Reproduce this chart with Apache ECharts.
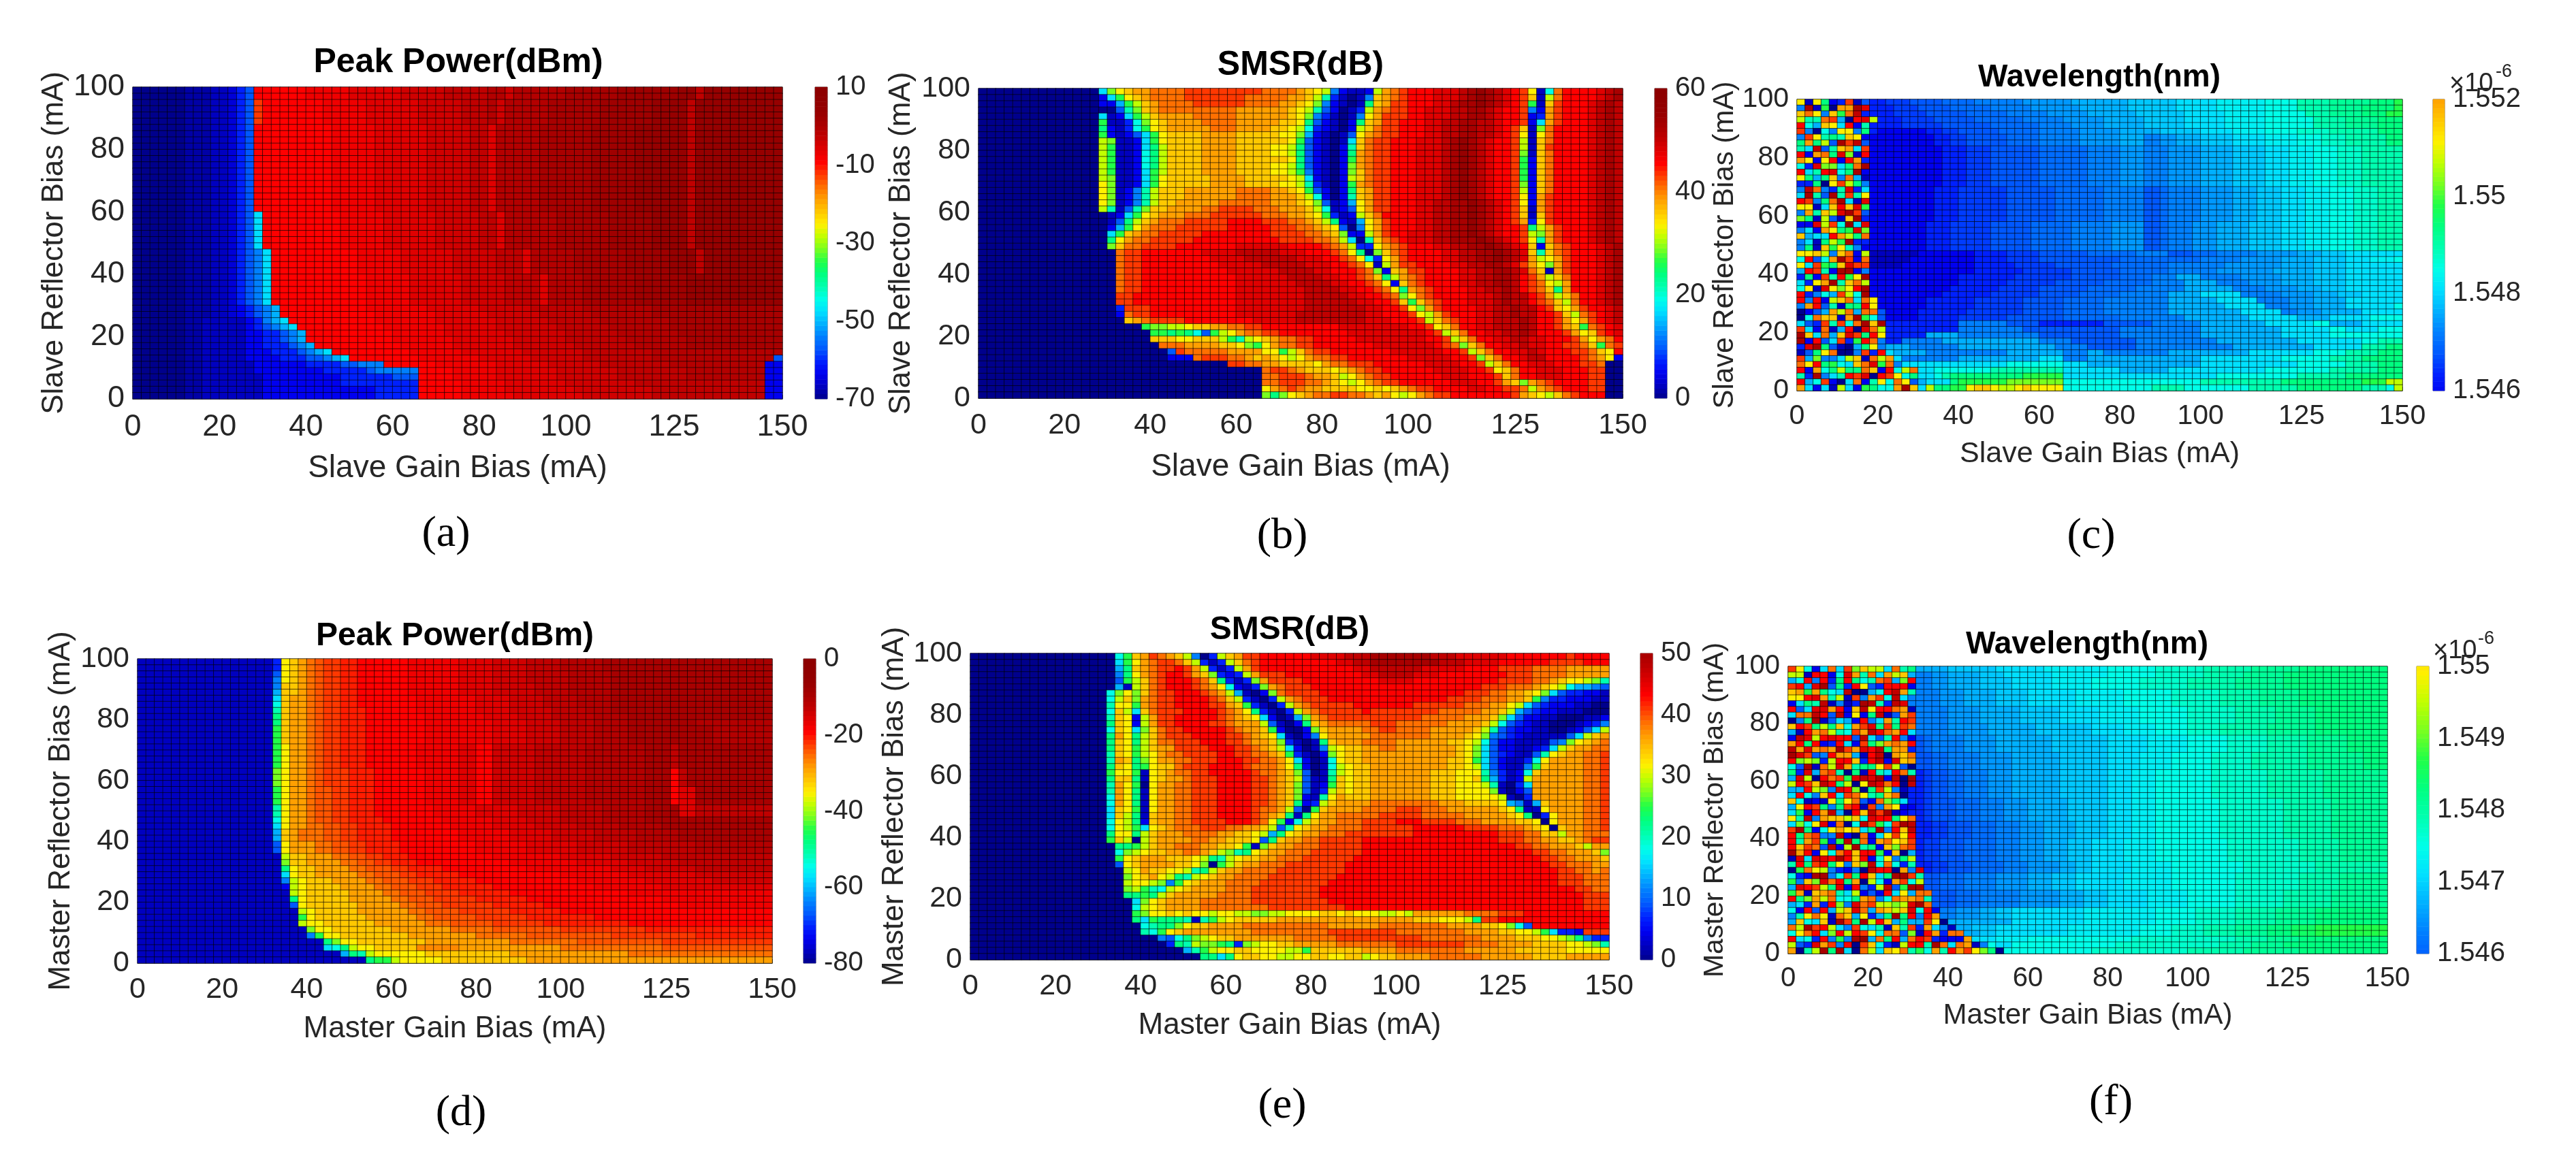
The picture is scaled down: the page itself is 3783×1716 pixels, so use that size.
<!DOCTYPE html>
<html>
<head>
<meta charset="utf-8">
<title>Laser bias maps</title>
<script src="https://cdn.jsdelivr.net/npm/echarts@6/dist/echarts.min.js"></script>
<style>
  html, body { margin: 0; padding: 0; background: #fff; }
  #chart { width: 3783px; height: 1716px; }
</style>
</head>
<body>
<div id="chart"></div>
<script>
// tick labels, same on all six maps
const gainTicks = [0, 20, 40, 60, 80, 100, 125, 150];
const reflectorTicks = [0, 20, 40, 60, 80, 100];
const colCount = 75;
const rowCount = 50;

// colour levels A..Z
const jetLevels = ['#00008c', '#0000c0', '#0000f0', '#0020ff', '#0058ff', '#0080ff', '#00b0ff', '#00e0ff', '#00ffe8',
  '#00ffb0', '#00ff80', '#20ff48', '#78ff20', '#c0ff00', '#fff000', '#ffc800', '#ffa000', '#ff7000', '#ff3800',
  '#ff0000', '#e00000', '#c00000', '#a80000', '#960000', '#900000', '#8c0000'];

// map rows, top row first. A letter is a colour level (lower case = half a level up), a number after it is the
// column where the run starts, a letter with no number takes the next column. *n repeats the row n times.
const peakPowerSlave = [
  'A0a6B9b11D12E13T14t20U25u31V36v41u43v44W50w56X63V65X66*2',
  'A0a6B9b11D12E13S14T15t22U27u33V38v41u42v43W48w54X60V64X65*4',
  'A0a6B9b11D12E13T14t23U28u34V39U41v42W47w53X58V64X65*14',
  'A0a6B9b11D12E13H14T15t24U29u35V40U42v43W49w55X60V64X65*6',
  'A0a6B9b11D12E13F14H15T16t26U31u37V42U45v46W51w57X62V65X66*4',
  'A0a6B9b11D12E13F14H15T16t27U32u38V43U47v48W52w58X64*5',
  'A0a6B9b11C12D13E14F15G16T17t27U34u40V46v52W60',
  'A0a6B9b11C12D13E14F15G16T17t28U35u41V47v53W60',
  'A0a6B8C13D14F15G16H17T18t28U35u42V48v54W62',
  'A0a6B8C13D14E15F16G17H18T19t29U36u42V49v55W62',
  'A0a6B8C13D15E17F18G19T20t30U36u43V50v56W63',
  'A0a6B8C13D15E17F18G19T20t30U37u44V50v57W64',
  'A0a6B8C13D15E18F19G20T21t31U37u44V51v58W64',
  'A0a6B8C13D16E19F20G21H22T23t32U38u45V52v60',
  'A0a6B8C13D17E20F22G23H24T25t33U40u46V52v60E74',
  'A0a6B8C14D20E24F26T29t35U42u48V54v62C73',
  'A0a6B8C14D22E27F28T33t37U42u49V56v64C73',
  'A0a6B8C15D24E30T33t37U42u49V56v64C73',
  'A0a6B8C15D24T33t38U43u50V58C73',
  'A0a6B8C15D28T33t38U43u51V60C73',
  'A0a6B8C15D28T33t38U44u52V60C73'
];

const smsrSlave = [
  'A0H14MOPQR20S24R33Q37PONFCBBCNQRST50U53V56W57X58W59V60U61T62S63OBIRT68U72V73W74',
  'A0C14HLOPQR20S24R31Q36P38NJDBABFPQRST50U53V56W57X58W59V60U61T62S63PBNRT68U72V73W74',
  'A0C14G16LNPQR21S25R31Q35P37O38MFCBABKPQST50U53V55W56X58W59V60U61T62S63LBPST68U71V72W73V74',
  'A0E16JMPQR21Q30P36O37NJECABDNQRST50U52V55W57V59U60T61S63FCQST68U71V72W73V74',
  'A0H14BCHLNPQR25Q30P36O37MFDBABFOQST50U52V55W57V59U60T61S63CDQST68U71V72W73V74',
  'A0L14BBDIMOPQ22R26Q30P35O37KECBACKPQS47T49U52V54W56V58U60T61S63CHQST68U71V72W73V74',
  'A0K14CBDILOPQ22R27Q30P34O36NIDCBACNPRS47T49U52V54W56V58U60T61S62PBMRT67U71V72W73V74',
  'A0L14CBCEHLOP22Q26P30O35M37GCBABEOQRS47T49U52V54W56V58U60T61S62OBORT67U71V72W73V74',
  'A0N14MBBCHLOP22Q26P30O36LECBABHPRS46T48U51V54W55X56W57V58U59T60S62NBPRT67U71V72W73V74',
  'A0N14LBBCHKNP22Q26P30O34N36KECBACJPRS46T48U51V54W55X56W57V58U59T60S62NBPST67U71V72W73V74',
  'A0N14LBBCIKNP22Q26P30O34N36KECBACKQRS46T48U51V54W55X56W57V58U59T60S62MBPRT67U71V72W73V74',
  'A0N14LBBCIKNP22Q26P30O36KECBACLQRS46T48U51V54W55X56W57V58U59T60S62LCPRT67U71V72W73V74',
  'A0N14LBBCIKNP22Q26P30O34N36KECBACMQRS46T48U51V54W55X56W57V58U59T60S62LCPRT67U71V72W73V74',
  'A0N14LBBCHLNP22Q26P30O34N36LFCBACMPRS46T48U51V54W55X56W57V58U59T60S62LCPRT67U71V72W73V74',
  'A0N14MBBCHLOP22Q27P31O36NHCBACNPRS46T48U51V54W55X56W57V58U59T60S62LCPRT67U71V72W73V74',
  'A0O14MBBCHLOP22Q27P31O35N37JDBACLQRS46T48U51V54W55X56W57V58U59T60S62MCPRT67U71V72W73V74',
  'A0O14MBCFJNP21Q24R30Q34P36O37LECACKPQS46T48U51V54W55X56W57V58U59T60S62NCPRT67U71V72W73V74',
  'A0O14MBCFJNP21Q24R30Q34P37NICACJPQS46T48U51V54W55X56W57V58U59T60S62OCQST67U71V72W73V74',
  'A0O14MBCFJNP21Q23R28Q34P37OMEBCGOQS46T48U51V53W55X57W58V59U60T61S62OCQST67U71V72W73V74',
  'A0N14JBEJMPQ22R26S28R32Q35P38NIBCEOQS46T48U51V53W55X57W58V59U60T61S62PBQST67U71V72W73V74',
  'A0B15CHLOPQ21R24S27R33Q36P38OLDBCNPRT47U51V53W55X57W58V59U60T61S62PBPST67U71V72W73V74',
  'A0B15EKNPQR21S24T29S33R36Q38PNKCBGOQS47T48U51V53W55X57W58V59U60T61S62QDOST67U71V72W73V74',
  'A0C15GLOQR20S23T29S34R37Q39POEAFOQS47T48U51V53W55X57W58V59U60T61S63KNQST68U71V72W73V74',
  'A0H15LPQRS21T26S34R38Q40PMCCNQS47T48U50V53W55X57W58V59U60T61S63NMQST68U71V72W73V74',
  'A0K15OQRS20T25S35R39Q41NHAJPRS48T49U50V53W55X58W59V60U61T62S63OJQST68U71V72W73V74',
  'A0M15PRS19T23U30T36S40R41Q42NDDOQRS49T50U53V55W57X59W60V61U62T63PCPRST69U72V73W74',
  'A0R16ST19U26V30U35T38S41R42O43KAMPRS49T50U54V56W58X60W61V62U63PJPRST69U72V73W74',
  'A0R16ST19U27V31U37T40S42R43OIDOQST50U54V56W58X60W61V62U63QNOQST69U72V73W74',
  'A0R16ST19U28V33U38T41S43R44OBNQS49T51U55V57W59V61U62S63QOMQST69U72V73W74',
  'A0R16ST19U29V35U39T41S44R45MCPQS50T52U56V58W60V62U63RPBQST69U72V73W74',
  'A0R16ST19U30V36U40T42S44R45PKNQRS51T52U56V58W60V62T63S64QNPRT69U72V73W74',
  'A0R16ST19U30V37U41T43S45ROCPRST52U56V58W60V62T63S64RONQT69U72V73W74',
  'A0R16ST19U30V38U42T44S46R47OKQRST53U57V59W61V62T63S64RPKQT69U72V73W74',
  'A0S16T18U30V38U43T45S47R48MORST53U57V60W61V62T64S65QNPRT70U72V73W74',
  'A0S16T18U30V38U44T46S48P49LPRST54U57V60W61V62T64S65RPNRT70U72V73W74',
  'A0D16S17T20U30V38U45T47S49OMQST54U58V60W62V63T65S66POQST71U73V74',
  'A0C16R17ST20U30V37U45T47S50ONQST55U58V60W62V63T65S67PNRST72U73V74',
  'A0P17QRS20T24U32V37U45T48S51NPRST56U58V60W63V64T65S67QOQST72U73V74',
  'A0L19MMNNOP25Q27R29S31T33U42T50S52OPRT56U58V60W63V64T65S67QPLRST73U74',
  'A0L20LKLKIELNOQRS33T35U43T52S53NPRT57U59V61W63V64T65S68QOPS72T73U74',
  'A0P20O23P25N28LJNOPQRS37T39U44T52S54N55PRT58U60V62U64T66S69QOQRT74',
  'A0R21Q24P28O30MLOQRS37T39U46T53S54R55M56PRT59U61V63U64T66S68R70PLRS74',
  'A0E22SR24Q29O33L35NPRS39T41U48T54S56NPRT60U62V64U65T66S69R71PORT74',
  'A0C22R25S26R29Q31PQPONOQRS41T43U50T55S57MPRT61U63V64T66S70R71Q72OC',
  'A0S29R31Q33P35O39Q40R41S43T46U52T56S58NPRT62U64T67S70R72A73',
  'A0R33S34R36Q37P38O41PQRS45T47U53T57S59OPRT63U65T68S71A73',
  'A0R33S35R38Q39P41NOQRS46T48U54T57S60PRT63U65T68S71A73',
  'A0R33S35R38Q40P41O42NOQRS47T49U55T58S60QPMQRST67S71A73',
  'A0O33QRSRQ38P40O44P46O47PQRST53U57T59S61R63NQRST68S71A73',
  'A0M33KMOPQR39S41R43Q45PQONOQRS53T55S62Q63PONPRS69T70A73'
];

const wavelengthSlave = [
  'OBOKCDSBED9d11E14e18F22f28G34g41H47h52I58J62j66K71L74',
  'FWBLAQQWUD9d12E15e19F24f29G35g41H47h52I58J62j66K70L74',
  'PROFPLRVDD9d12E16e21F26f31G36g42H48h53I58J63j66K70L73',
  'NJJRSGATUND10d13E17e22F28f33G38g43H48h53I58J64j68K72',
  'TIGPOHTCJD9d13E18e24F30f34G38g43H48h53I58J64j68K72',
  'SFAIFOOFKD9C10D16d18E20e25F30f35G40g45H50h54I58i62J66K72',
  'FSOJKJPOCC9D17d19E21e26F30f35G40F43f45G47g50H54h58I62i65J68K73',
  'KQKNEWSVEC9D17d19E21e26F30f35G40F43f45G47g50H54h58I62i65J68K73',
  'JHVEJPQHSC9D18d21E24e30F36f40F43f46G50g54H58h61I64i67J70',
  'TCQRKUMBTC9D18d21E24e30F36f40F43f46G50g54H58h61I64i67J70',
  'QOCOTCTQDC9D18d21E24e30F36f40F43f46G50g54H58h61I64i67J70',
  'IDUMMHKRWC9D18d21E24e30F36f40F43f46G50g54H58h61I64i67J70',
  'THJTUIKWCC9D18d21E24e30F36f40F43f46G50g54H58h61I64i67J70',
  'OKGKPFRGBC9D18d21E24e30F36f40F43f46G50g54H58h61I64i67J70',
  'DDKAOSNKFC9D18d21E24e30F36f40F43f46G50g54H58h61I64i67J70',
  'FVRFDJUDHC9D17d20E26e32F38E43e45F46f50G54g57H60h63I66i69J72',
  'HWJEWJSJOC9D17d20E26e32F38E43e45F46f50G54g57H60h63I66i69J72',
  'TSFKRWHBUC9D17d20E26e32F38E43e45F46f50G54g57H60h63I66i69J72',
  'OOBHPTPULC9D17d20E26e32F38E43e45F46f50G54g57H60h63I66i69J72',
  'FQJPNUWSEC9D17d20E26e32F38E43e45F46f50G54g57H60h63I66i69J72',
  'MKBNEBPWDC9D17d20E26e32F38E43e45F46f50G54g57H60h63I66i69J72',
  'CCUNSIXHUC9D16d19E24e29F34f39E43e45F46f49G52g56H60h63I66i69J72',
  'FHCQOKLUMC9D16d19E24e29F34f39E43e45F46f49G52g56H60h63I66i69J72',
  'PGHHTQNKRC9D16d19E24e29F34f39E43e45F46f49G52g56H60h63I66i69J72',
  'FHBKNLWDDC9D16d19E24e29F34f39E43e45F46f49G52g56H60h63I66i69J72',
  'FKBPLOJFCC9D16d19E24e29F34f39E43e45F46f49G52g56H60h63I66i69J72',
  'OOPNFPRCNB9C15D22d26E30e36F42E46e49F52f57G62g65H68',
  'ITEIQWSCRB9C14D22d26E30e40F50f55G60g64H68h71I74',
  'OHSLKPUSSB9C13D22d27E32e39F46f53G60g64H68',
  'GTSJCWWCFC9D22d28E34e40F46f52G59g64H68',
  'DKCSJTLOWC9D20d27E34e40F44G47F50f55G60g64H68',
  'HDOQWJPRNC9D20d26E32e38F44G48F52f56G60g64H68',
  'IOBUOMOTWC9D19d25E30e36F42G48F54f58G62g65H68',
  'TDFIGSNIWC9D18d24E30e35F40G46H50F55f60G64g67H70',
  'TFTCNPRHROC10D16d22E28e33F38G46H52F57f61G64H68',
  'FQTEJBKKTOC10D16d22E28e33F38G46H53F58f61G64H68I74',
  'ACEGQNRGRRE10C11D15d21E28e33F38G46H55F60f62G65H70',
  'AIRPPBQWLIE10C11D15d20E26e33F40G48H56G62H66I71',
  'HEDSJSIRWPWD11F20E26D30E38F44G50H58I64G66H70',
  'SHCRBGTAURND11F20E28F40G50H60I66H68I72',
  'WPHRGPUSKTOD11G16F20E30F40G50H60I66',
  'WCTEHSDLTRFDF13G18F30E34F42G52H62I70J72',
  'DUWKEBAGKOFGF14G20F32E36F42G54H64J70K73',
  'BEKORAAFSDTHG12F16G26F33G36F38G46H56I64J68K72',
  'SGMFFHNPBRNQHF13G20H30F33G36H50I60J66K70',
  'ROTKLIHPRULRFH13I26H33G36H50I62J68K72',
  'TCQIKNKKRPCTINRH15I17J24H33G40H46I58J66K72',
  'JDWFHJTSUATSOIKH15I17J18K19L28H33I52J62K68',
  'TGISCAHRCJOIROEG15H16K19L20M26I33J50K60L70N73',
  'QHCHBNHCLKIIQWPHNK17L19O21P22O24N25O27P28O29I33J44I48J56K62J70I73N74'
];

const peakPowerMaster = [
  'B0D16OPQRr21S22s24T26t32U38u42V46v50W55*2',
  'B0E16OPQRr21S22s24T26t32U38u42V46v51W56',
  'B0F16OPQRr21S22s24T26t32U38u42V46v51W56',
  'B0F16PPQRr21S22s24T26t32U38u42V47v51W56',
  'B0G16PPQRr21S22s24T26t32U38u42V47v51W56',
  'B0H16PQQRr21S22s24T26t33U40u44V48v52W56',
  'B0I16PQQRr21S22s24T26t33U40u44V48v52W56',
  'B0J16PQQRr21S22s24T27t33U40u44V49v53W56',
  'B0K16PQQRr21S22s24T27t34U41u45V49v54W58',
  'B0K16PQQRr21S22s24T27t34U42u46V50v54W58v66',
  'B0L16PQQRr21S22s24T27t34U42u46V50v54W58v68*3',
  'B0L16OQQRr21S22s24T27t33U38T40u42V47v53W60V63W64*4',
  'B0M16OQQRr21S22s25T28t34U38T40u42V47v53W60T63V64W65*3',
  'B0L16OQQRr21S23s25T28t34U38T40u42V47v53W60T63U64W66*3',
  'B0J16OQQRr21S23s25T28t35U40u45V50v55W60U64V66*2',
  'B0I16OQQRr21S23s25T29t36U42u46V50v55W60',
  'B0H16OQQRr22S24s26T30t37U42u47V52v57W62',
  'B0G16PQRr22S24s26T30t38U44u49V54v59W64*2',
  'B0E16OQ18R21r23S25s27T31t40U46u52V58v66*2',
  'B0N17PQ20R23r25S27s29T32t42U50u56V62',
  'B0M17PQ20R24r26S28s30T33t44U52u58V64',
  'B0K17OP19Q21R25r27S30s32T36t46U56u60V66',
  'B0H17OP19Q21R26r28S31s33T38t50U58u66',
  'B0F17NO19P20Q23R27r29S32s35T40t52U60u68',
  'B0C17NOP20Q24R28r30S33s36T42t54U62',
  'B0N18OP20Q25R29r31S34s38T44t58',
  'B0K18OP20Q25R30r32S35s40T46t62',
  'B0E18OP20Q26R31r33S36s42T48t64',
  'B0N19OP21Q26R32r34S38s44T50',
  'B0L19OP21Q27R33r35S40s46T54',
  'B0N19OP22Q28R34r37S42s48T58',
  'B0M20OP23Q30R37r42S50s60',
  'B0F20LOP24Q32R40r46S56s66',
  'B0K22MOP26Q34R44r52S62',
  'B0H22IK24NOP28q33Q38R50r62',
  'B0G24KJNO28P34Q44R58',
  'B0K27LLNO31P36Q46'
];

const smsrMaster = [
  'A0I17LPQSRQPNFADNPQS32T34U40V44W47V54U57T63S70T71',
  'A0H17LOQRS22R24PNDBDNPRST34U43V45W47V55U58T62S68T72',
  'A0G17KPQRS22T24S25QNDBDNQST34U45V47U53T58S62R66Q70',
  'A0F17KOQRS22T23S25QPMDCDNQST37U46V48U52T55S63R66Q70',
  'A0E17LNPRS22T23S26R27PKDBDMQST39U48T52S62R66Q68POONMJ',
  'A0G17BNPRS22T23S26R27QOICBDMQRS37T40S60R63Q66P67ONIGGFE',
  'A0I16MOMPRS22T24S27R28QNGBACMRS37T41S58R61Q63P65OMHEDDCCB',
  'A0I16NPMQRS22T24S28R29PNDBADNQRS39T42S56R60Q63P65LFDDCCCBB',
  'A0J16OOLQRS22T24S28Q30PLDBADNQRST45S52R58Q61O63NHEDCCCBBAA',
  'A0I16PNHPRS22T25S29RQOKDBADNQRST46S47R55Q60P62NGEDCCBBBAAA',
  'A0J16POCNQS22T24S29RQPOHCABGMQRS42R53Q58P61MHECCBBAAABBC',
  'A0K16POCNQS22T24S28R30Q31N34EBACKPQR42S47R50Q56P60NIEDCBBAAABCDF',
  'A0I16POHMPRS23T25S30RQ32P34LCAACMPQ42R46S48R50Q54P59NJEDCCBBAABCEHN',
  'A0K16QOKNPRS23T26S30R32QPOHBACFOQR47Q54P58O59MFEDCBBBBBEHNPQ',
  'A0K16POKNPR22S24T27S30R32Q33P35MDBABKPQ43R46Q50P56O58NIECCBBBBEFMOPQR',
  'A0K16POLNPQ22S24T28S31R33QPNHCABFNOP44Q46R48Q50P57O58MHECCBBCDHNPQQRR',
  'A0J16POLNOQRS25T29S31R33Q35PLDBACMOP44Q46P57O58MHEDCBBEJOPQQRRS',
  'A0J16QPKMOQ22R24S26T29S32R34Q36OHCABIOP44Q46P56O58LHECBBDIOQ68R72S74',
  'A0K16POKLOP22R24S25T28S32R33Q36OKCABINOPQ47P56O58NHECBBFLPQ68R72S74',
  'A0L16OOLBOPQRS26T28S33R34Q36PMEABJNOPQ47P54O57J60FDBCIPQR72S74',
  'A0K16PPKBOPQ23R25S26T29S33R35QPNEBBKPOP45Q47P54O57P59KGDBCNQR72S74',
  'A0J16QOLAOQ22R24S26T29S33R35QPMEBCLPOP45Q47P54O57N60JBADHQR72S74',
  'A0J16QOKBOQ22R24S26T29S33R35QPMEBDNPOP45Q47P54O57O60MBACEQR72S74',
  'A0I16QOKBOQ22R24S26T29S33R35QPMCBJOQP44Q47P54O57O61NBADQR72S74',
  'A0I16QOKBOQ22R24S26T29S33R35QPKCDNPQ43R47Q55P58O62GFBGPQR72S74',
  'A0H16POLBOQ22R24S26T29S33R34Q36NEALPQ42R46S50R53Q56P62OKBBOQR72S74',
  'A0H16PNKBPQ22R24S26T29S33R34Q35PKBKOQR43S48R53Q58P63OKADOQR72S74',
  'A0I16ONKCPQ22R24S26T30S33R34O35LCINPQ41R43S46T50S53R57Q60P64O66AOQR72S74',
  'A0I16ONLHOPQRS27R30Q32P34NEJOPQ40R42S46T52S58R62Q65P66OAPQR72S74',
  'A0K16OOKNPQ22R25Q29P31O33NGKOPQ39R41S44T52S62R65P67N69Q70R72',
  'A0L16PNANPQ22R26Q28P30O33EKPQ37R39S41T46S62R65Q67P69Q71R72S73',
  'A0K17KLNPQ22R24Q27P29O31LBMPQ36R38S41T46S64R66Q68P71NQ73',
  'A0I17MNOPQ23R25Q27P28NMJKOPQ35R37S40T46S66R68Q70P73M74',
  'A0L17OPQ20P23O26NKJNOPQ34R36S39T45S67R69Q71P74',
  'A0E17OPQ20P24O26MALNPQ32R34S37T44S68R70Q73',
  'A0N18OQ20P21O23N25JKNPQ30R32S36T44S69R71Q73R74',
  'A0M18OPQONKJNOPQ29R31S35T43S69R72',
  'A0N18OONMFLOPQ27R30S34T42S69R72',
  'A0M18NLJINOPQ26R30S33T41S71R73',
  'A0K18KLKNPQ24R29S33T41S72',
  'A0H19MOPQ23R27S33T42S72',
  'A0I19NOPQ23R27S35T44S72',
  'A0L19MOOPOPOONOONNMMNNOOOOPPOPOOONNONQ52R58S62T65',
  'A0K19HLK22J25BJLNOP31Q36P52O55N58KS60T62',
  'A0I20JK22M24OP26Q28R32Q42R48Q56P60O62MIET66',
  'A0J20ILOPQ25R33S42R50Q58P62O64N66LHD69C71S72',
  'A0F22EIKMNOPQ31R38S43R53Q60P64O67N69M70KFD73',
  'A0D23KJNMMLKDMNO34P36Q38R43S50R58Q62P66O70N72MJ',
  'A0G25JLNO29P31O33N37L39P40Q46R50Q58P64O70',
  'A0K27KHKOP32O34N36O38P40O42P44N46O47P48Q50R54Q60P66Q70'
];

const wavelengthMaster = [
  'SOICHRHSMPNNHRJKG16g20H26h32I40i46J52j58K64',
  'NNBTTCIUQJRHQNPGF16f18G20g24H27h33I40i46J52j57K62',
  'GITFTDKTKIJRSGMTF16f18G20g24H28h33I38i44J50j56K62',
  'STGUWEKDTOEDTTTCF16f18G20g24H28h33I38i44J50j56K62',
  'PQLQKIHVAAGITVQJF16f19G22g26H30h36I42i48J54j59K64',
  'OOTUQJNBSFQSIVHFF16f19G22g26H30h36I42i48J54j59K64',
  'CHKJVBFBDWVJDVUFF16f19G22g26H30h36I42i48J54j59K64',
  'TEHUUQTCPVOTTRQBF16f20G24g29H34h39I44i50J56j61K66',
  'HRRVTEVCOCKVBEQSF16f20G24g29H34h39I44i50J56j61K66',
  'AFKWBEHGCTFHQJTSF16f20G24g29H34h39I44i50J56j61K66',
  'PTSKNKPIQSUKSKSRF16f20G25g31H38h42I46i50J54j60K66',
  'GBTQRNJISQVTRQTHF16f20G25g31H38h42I46i50J54j60K66',
  'CVUNTUTTEVHEJTFCE16e17F18f22G26g33H40h45I50i55J60j65K70',
  'QTKTCDTHCSKMQRQTE16e17F18f22G26g33H40h45I50i55J60j65K70',
  'VQUQRQWSQUTVKQQDE16e17F18f22G26g33H40h45I50i55J60j65K70',
  'WUSEFTQQGBTVAQPRE16e18F20f24G28g34H40h44I48i53J58j65K72',
  'TMNMDNTTPDTVCUPQE16e18F20f24G28g34H40h44I48i53J58j65K72',
  'IEWBRNUQJKKOSNEAE16e18F20f24G28g34H40h44I48i53J58j65K72',
  'KDUGRSJAKBTJHTRJD16d17E18e20F22f25G28g34H40h43I46i53J60j67',
  'GUNATRSLUVUWCVAWD16d17E18e20F22f25G28g34H40h43I46i53J60j67',
  'NTSPVTKNAOVURTAVD16d17E18e20F22f25G28g34H40h43I46i53J60j67',
  'GGTNMFUTMAKSNFBDD16d17E18e20F22f25G28g34H40h43I46i53J60j67',
  'HTIFPTHSROJKPRADD16d17E18e20F22f25G28g34H40h43I46i53J60j67',
  'PIBCBOKORECRMKHDD16d17E18e21F24f27G30g35H40h43I46i54J62j68',
  'GOTSKFKSTBSFQOCCD16d17E18e21F24f27G30g35H40h43I46i54J62j68',
  'HLCTQVGATPVSWBCDD16d17E18e21F24f27G30g35H40h43I46i54J62j68',
  'OJVFQPPNPIUTTKORD16d17E18e21F24f27G30g35H40h43I46i54J62j68',
  'HMIOUCRAIVSLISWVD16d18E20e23F26f29G32g36H40h43I46i54J62j68',
  'SWKCIOQOPHKWFTPVD16d18E20e23F26f29G32g36H40h43I46i54J62j68',
  'TKRSFFVCARCHOSOTD16d18E20e23F26f29G32g36H40h43I46i54J62j68',
  'TJQSLDLVKRCQROPSD16d17E19e22F26f29G32g35H38h42I46i55J64j69',
  'TPSREVCNWJKCPMRSD16d17E19e22F26f29G32g35H38h42I46i55J64j69',
  'WQTCOIRTPTTLCPAGD16d17E19e22F26f29G32g35H38h42I46i55J64j69',
  'BUHUUTWTPTCIOFKND16d17E19e22F26f29G32g35H38h42I46i55J64j69',
  'JTKSTKOFPMVIRIDJD16d18E20e23F27f30G34g36H38h43I48i57J66',
  'ALRONFDCFAVTTAQFUD17d18E20e23F27f30G34g36H38h43I48i57J66',
  'IDCWWFISKTPHKWWSJE17e19F22f26G30g33H36h42I48i56J64j69',
  'LFPMURTKQANICQSINE17e19F22f26G30g33H36h42I48i56J64j69',
  'GUTSNKUCTFDNVELWWE17e19F22f26G30g33H36h42I48i56J64j69',
  'LQBPQRJHNCECTHOGRE18e21F24f29G34g37H40h45I50i56J62j68',
  'TKMQNRIIKQRFIRQQRJE18e21F24f29G34g37H40h45I50i56J62j68',
  'GHDQDTMFURSNNMNUWRE18e21F24f29G34g37H40h45I50i56J62j68',
  'ICTETGNPURGQPNPUITCF19f21G24g26H28h37I46i51J56j61K66',
  'FJOROBRPGODGKWKTFTQF19f21G24g26H28h37I46i51J56j61K66',
  'GPIHPBWSKWNTPGKGGSOAGH28h37I46i51J56j61K66',
  'RNWSTNHFSIHJBPJSDQHFBG21g23H26h35I44i48J52j56K60k63L66',
  'IORTHMTNTSOIRREMBTQDRRG22g24H26h35I44i48J52j56K60k63L66',
  'THIDTFLFWXGRKTGRTSDCCCQH23h26I30i43J56j60K64',
  'NEDUQSFTASPIDBNTTJWRHRQBFIH26I28i41J54j58K62',
  'QAJNWKWHARNHPORJLIQJTQSOMKAI27i38J50j57K64'
];

// turns one row string into its 75 colour levels
function decodeRow(text) {
  const levels = new Array(colCount).fill(0);
  const tokens = text.match(/[A-Za-z]\d*/g);
  const starts = [];
  tokens.forEach((tok, i) => {
    const num = tok.slice(1);
    starts.push(num ? +num : (i === 0 ? 0 : starts[i - 1] + 1));
  });
  tokens.forEach((tok, i) => {
    const end = i + 1 < tokens.length ? starts[i + 1] : colCount;
    const ch = tok[0];
    const level = ch === ch.toUpperCase() ? ch.charCodeAt(0) - 65 : ch.charCodeAt(0) - 97 + 0.5;
    for (let c = starts[i]; c < end; c++) levels[c] = level;
  });
  return levels;
}

function decodeMap(rows, low, high) {
  const out = [];
  let r = 0;
  rows.forEach(line => {
    const parts = line.split('*');
    const times = parts[1] ? +parts[1] : 1;
    const levels = decodeRow(parts[0]);
    for (let n = 0; n < times; n++) {
      levels.forEach((lv, c) => {
        out.push([c, rowCount - 1 - r, low + lv / 25 * (high - low)]);
      });
      r++;
    }
  });
  return out;
}

const panels = [
  { rows: peakPowerSlave, title: 'Peak Power(dBm)', cap: '(a)', xName: 'Slave Gain Bias (mA)', yName: 'Slave Reflector Bias (mA)',
    box: [195, 128, 1149, 586], bar: [1197, 1215], low: -70, high: 10, cbMin: -70, cbMax: 10, cbTicks: [-70, -50, -30, -10, 10],
    titlePos: [673, 92, 50], capPos: [655, 785], tick: 45, xFont: 46, yFont: 44, xGap: 79, yGap: 93, xMargin: 19 },
  { rows: smsrSlave, title: 'SMSR(dB)', cap: '(b)', xName: 'Slave Gain Bias (mA)', yName: 'Slave Reflector Bias (mA)',
    box: [1437, 130, 2383, 585], bar: [2430, 2448], low: 0, high: 60, cbMin: 0, cbMax: 60, cbTicks: [0, 20, 40, 60],
    titlePos: [1910, 96, 50], capPos: [1883, 788], tick: 43, xFont: 46, yFont: 44, xGap: 78, yGap: 91, xMargin: 19 },
  { rows: wavelengthSlave, title: 'Wavelength(nm)', cap: '(c)', xName: 'Slave Gain Bias (mA)', yName: 'Slave Reflector Bias (mA)',
    box: [2639, 146, 3528, 574], bar: [3573, 3590], low: 1.54502, high: 1.55593, cbMin: 1.546, cbMax: 1.552, cbTicks: [1.546, 1.548, 1.55, 1.552],
    titlePos: [3083, 114, 46], capPos: [3071, 788], tick: 41, xFont: 43, yFont: 42, xGap: 72, yGap: 85, xMargin: 17, exp: [3597, 124, 3665, 106] },
  { rows: peakPowerMaster, title: 'Peak Power(dBm)', cap: '(d)', xName: 'Master Gain Bias (mA)', yName: 'Master Reflector Bias (mA)',
    box: [202, 968, 1134, 1415], bar: [1180, 1198], low: -80, high: 0, cbMin: -80, cbMax: 0, cbTicks: [-80, -60, -40, -20, 0],
    titlePos: [668, 935, 48], capPos: [677, 1636], tick: 43, xFont: 44, yFont: 44, xGap: 75, yGap: 90, xMargin: 18 },
  { rows: smsrMaster, title: 'SMSR(dB)', cap: '(e)', xName: 'Master Gain Bias (mA)', yName: 'Master Reflector Bias (mA)',
    box: [1425, 960, 2363, 1410], bar: [2409, 2427], low: 0, high: 56.8, cbMin: 0, cbMax: 50, cbTicks: [0, 10, 20, 30, 40, 50],
    titlePos: [1894, 926, 48], capPos: [1883, 1625], tick: 43, xFont: 44, yFont: 44, xGap: 75, yGap: 89, xMargin: 18 },
  { rows: wavelengthMaster, title: 'Wavelength(nm)', cap: '(f)', xName: 'Master Gain Bias (mA)', yName: 'Master Reflector Bias (mA)',
    box: [2626, 979, 3506, 1401], bar: [3549, 3567], low: 1.5443, high: 1.5543, cbMin: 1.546, cbMax: 1.55, cbTicks: [1.546, 1.547, 1.548, 1.549, 1.55],
    titlePos: [3065, 947, 46], capPos: [3100, 1620], tick: 40, xFont: 42, yFont: 41, xGap: 70, yGap: 87, xMargin: 17, exp: [3573, 957, 3639, 939] }
];

const grids = [], xAxes = [], yAxes = [], seriesList = [], maps = [], titles = [];
const sans = '"Liberation Sans", Arial, sans-serif';
const numbers = n => Array.from({ length: n }, (_, i) => i);

function hiddenCat(gridIndex, n) {
  return { type: 'category', gridIndex: gridIndex, show: false, data: numbers(n) };
}

function text(str, x, y, size, weight, family) {
  return { text: str, left: x, top: y, textAlign: 'center', textVerticalAlign: 'middle', padding: 0,
    textStyle: { fontSize: size, fontWeight: weight, fontFamily: family, color: '#000' } };
}

panels.forEach(p => {
  const [x0, y0, x1, y1] = p.box;
  const g = grids.length;
  const labelColor = '#262626';
  const lineStyle = { color: '#555', width: 1 };

  // heat map cells on band axes, ticks on a value axis laid over them
  grids.push({ left: x0, top: y0, width: x1 - x0, height: y1 - y0, show: true, borderColor: '#777', borderWidth: 1 });
  const heatX = xAxes.length, heatY = yAxes.length;
  xAxes.push(hiddenCat(g, colCount));
  yAxes.push(hiddenCat(g, rowCount));
  xAxes.push({ type: 'value', gridIndex: g, position: 'bottom', min: 0, max: 150, name: p.xName, nameLocation: 'middle', nameGap: p.xGap,
    nameTextStyle: { fontSize: p.xFont, fontFamily: sans, color: labelColor }, splitLine: { show: false },
    axisLine: { show: true, lineStyle: lineStyle }, axisTick: { inside: true, length: 6, customValues: gainTicks, lineStyle: lineStyle },
    axisLabel: { customValues: gainTicks, fontSize: p.tick, fontFamily: sans, color: labelColor, margin: p.xMargin } });
  yAxes.push({ type: 'value', gridIndex: g, position: 'left', min: 0, max: 100, name: p.yName, nameLocation: 'middle', nameGap: p.yGap,
    nameTextStyle: { fontSize: p.yFont, fontFamily: sans, color: labelColor }, splitLine: { show: false },
    axisLine: { show: true, lineStyle: lineStyle }, axisTick: { inside: true, length: 6, customValues: reflectorTicks, lineStyle: lineStyle },
    axisLabel: { customValues: reflectorTicks, fontSize: p.tick, fontFamily: sans, color: labelColor, margin: 12 } });
  const heatIndex = seriesList.length;
  seriesList.push({ type: 'heatmap', xAxisIndex: heatX, yAxisIndex: heatY, data: decodeMap(p.rows, p.low, p.high), silent: true,
    progressive: 0, itemStyle: { borderColor: 'rgba(0,0,0,0.62)', borderWidth: 1 } });

  // colorbar, 64 steps like the reference
  const cbGrid = grids.length;
  grids.push({ left: p.bar[0], top: y0, width: p.bar[1] - p.bar[0], height: y1 - y0, show: true, borderColor: '#666', borderWidth: 1 });
  const cbX = xAxes.length, cbY = yAxes.length;
  xAxes.push(hiddenCat(cbGrid, 1));
  yAxes.push(hiddenCat(cbGrid, 64));
  yAxes.push({ type: 'value', gridIndex: cbGrid, position: 'right', min: p.cbMin, max: p.cbMax, splitLine: { show: false },
    axisLine: { show: false }, axisTick: { inside: true, length: 5, customValues: p.cbTicks, lineStyle: { color: '#444' } },
    axisLabel: { customValues: p.cbTicks, fontSize: 40, fontFamily: sans, color: labelColor, margin: 12, formatter: v => String(v) } });
  const cbIndex = seriesList.length;
  seriesList.push({ type: 'heatmap', xAxisIndex: cbX, yAxisIndex: cbY, silent: true, progressive: 0,
    data: numbers(64).map(i => [0, i, p.cbMin + (i + 0.5) / 64 * (p.cbMax - p.cbMin)]) });

  maps.push({ type: 'continuous', show: false, seriesIndex: [heatIndex, cbIndex], dimension: 2, min: p.low, max: p.high,
    inRange: { color: jetLevels } });

  titles.push(text(p.title, p.titlePos[0], p.titlePos[1], p.titlePos[2], 'bold', sans));
  titles.push(text(p.cap, p.capPos[0], p.capPos[1], 64, 'normal', '"Liberation Serif", serif'));
  if (p.exp) {
    titles.push({ text: '×10', left: p.exp[0], top: p.exp[1], textVerticalAlign: 'middle', padding: 0,
      textStyle: { fontSize: 38, fontWeight: 'normal', fontFamily: sans, color: labelColor } });
    titles.push({ text: '-6', left: p.exp[2], top: p.exp[3], textVerticalAlign: 'middle', padding: 0,
      textStyle: { fontSize: 27, fontWeight: 'normal', fontFamily: sans, color: labelColor } });
  }
});

const chart = echarts.init(document.getElementById('chart'));
chart.setOption({
  animation: false,
  backgroundColor: '#fff',
  title: titles,
  grid: grids,
  xAxis: xAxes,
  yAxis: yAxes,
  visualMap: maps,
  series: seriesList
});
</script>
</body>
</html>
